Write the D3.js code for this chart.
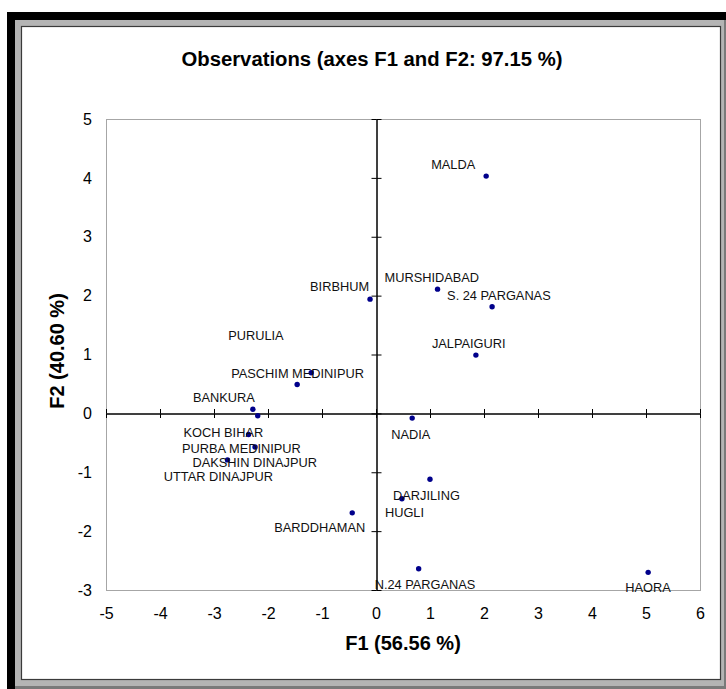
<!DOCTYPE html>
<html>
<head>
<meta charset="utf-8">
<script src="https://cdn.jsdelivr.net/npm/d3@7"></script>
<style>
  html, body { margin: 0; padding: 0; background: #fff; }
  svg { display: block; font-family: "Liberation Sans", Arial, sans-serif; }
</style>
</head>
<body>
<svg id="chart" width="726" height="689"></svg>
<script>
// ---------------- DATA ----------------
const districts = ["MALDA", "MURSHIDABAD", "S. 24 PARGANAS", "JALPAIGURI", "BIRBHUM",
  "PURULIA", "PASCHIM MEDINIPUR", "BANKURA", "UTTAR DINAJPUR", "KOCH BIHAR",
  "PURBA MEDINIPUR", "DAKSHIN DINAJPUR", "NADIA", "DARJILING", "HUGLI",
  "BARDDHAMAN", "N.24 PARGANAS", "HAORA"];
const f1Values = [2.04, 1.14, 2.15, 1.85, -0.11, -1.46, -1.20, -2.28, -2.19, -2.36,
  -2.24, -2.75, 0.67, 1.00, 0.48, -0.44, 0.79, 5.04];
const f2Values = [4.03, 2.11, 1.81, 0.99, 1.94, 0.49, 0.69, 0.07, -0.04, -0.36,
  -0.57, -0.79, -0.08, -1.12, -1.45, -1.69, -2.64, -2.70];
const xTicks = [-5, -4, -3, -2, -1, 0, 1, 2, 3, 4, 5, 6];
const yTicks = [-3, -2, -1, 0, 1, 2, 3, 4, 5];
const chartTitle = "Observations (axes F1 and F2: 97.15 %)";
const xTitle = "F1 (56.56 %)";
const yTitle = "F2 (40.60 %)";

// ---------------- LAYOUT ----------------
// label offsets (px) relative to each point: [dx to text start, dy to baseline]
const labelOffsets = {
  "MALDA": [-55, -7], "MURSHIDABAD": [-53, -7], "S. 24 PARGANAS": [-45, -7],
  "JALPAIGURI": [-44, -7], "BIRBHUM": [-60, -8], "PURULIA": [-69, -45],
  "PASCHIM MEDINIPUR": [-80, 5], "BANKURA": [-60, -7], "UTTAR DINAJPUR": [-94, 65],
  "KOCH BIHAR": [-65, 2], "PURBA MEDINIPUR": [-73, 6.5], "DAKSHIN DINAJPUR": [-35, 7.5],
  "NADIA": [-21, 21], "DARJILING": [-37, 21], "HUGLI": [-17, 18],
  "BARDDHAMAN": [-78, 19], "N.24 PARGANAS": [-44, 20], "HAORA": [-23, 20]
};

const svg = d3.select("#chart");
const W = 726, H = 689;
const fmt = d => String(d);

// frame
svg.append("rect").attr("x", 0).attr("y", 0).attr("width", W).attr("height", H).attr("fill", "#fff");
svg.append("rect").attr("x", 7).attr("y", 12).attr("width", W - 7).attr("height", H - 12).attr("fill", "#000");
svg.append("rect").attr("x", 15).attr("y", 20).attr("width", W - 15).attr("height", H - 20).attr("fill", "#7a7a7a");
svg.append("rect").attr("x", 15).attr("y", 20).attr("width", W - 17).attr("height", H - 23).attr("fill", "#b4b4b4");
svg.append("rect").attr("x", 21.5).attr("y", 26.5).attr("width", 699).attr("height", 653)
  .attr("fill", "#fff").attr("stroke", "#3a3a3a").attr("stroke-width", 1.2);

// scales
const x = d3.scaleLinear().domain([-5, 6]).range([106, 700]);
const y = d3.scaleLinear().domain([-3, 5]).range([590, 119]);

// plot border
svg.append("rect").attr("x", x(-5) + 0.5).attr("y", y(5) + 0.5)
  .attr("width", x(6) - x(-5)).attr("height", y(-3) - y(5))
  .attr("fill", "none").attr("stroke", "#a6a6a6").attr("stroke-width", 1);

// tick labels (outer)
const xLab = svg.append("g").attr("transform", `translate(0,${y(-3)})`)
  .call(d3.axisBottom(x).tickValues(xTicks).tickSize(0).tickPadding(18).tickFormat(fmt));
xLab.select(".domain").remove();
xLab.selectAll("text").attr("font-size", 16).attr("fill", "#000")
  .attr("font-family", "'Liberation Sans', Arial, sans-serif");

const yLab = svg.append("g").attr("transform", `translate(${x(-5)},0)`)
  .call(d3.axisLeft(y).tickValues(yTicks).tickSize(0).tickPadding(14).tickFormat(fmt));
yLab.select(".domain").remove();
yLab.selectAll("text").attr("font-size", 16).attr("fill", "#000")
  .attr("font-family", "'Liberation Sans', Arial, sans-serif");

// axes through origin
function styleAxis(g) {
  g.selectAll("path, line").attr("stroke", "#000").attr("stroke-width", 1);
  g.selectAll("text").remove();
}
const y0 = Math.round(y(0)) + 0.5, x0 = Math.round(x(0)) + 0.5;
svg.append("g").attr("transform", `translate(0,${y0})`)
  .call(d3.axisBottom(x).tickValues(xTicks).tickSize(4.5).tickSizeOuter(0).tickFormat(""))
  .call(styleAxis);
svg.append("g").attr("transform", `translate(0,${y0})`)
  .call(d3.axisTop(x).tickValues(xTicks).tickSize(4.5).tickSizeOuter(0).tickFormat(""))
  .call(styleAxis);
svg.append("g").attr("transform", `translate(${x0},0)`)
  .call(d3.axisLeft(y).tickValues(yTicks).tickSize(5).tickSizeOuter(0).tickFormat(""))
  .call(styleAxis);
svg.append("g").attr("transform", `translate(${x0},0)`)
  .call(d3.axisRight(y).tickValues(yTicks).tickSize(5).tickSizeOuter(0).tickFormat(""))
  .call(styleAxis);

// points
const data = districts.map((d, i) => ({ name: d, f1: f1Values[i], f2: f2Values[i] }));
svg.append("g").selectAll("circle").data(data).join("circle")
  .attr("cx", d => x(d.f1)).attr("cy", d => y(d.f2)).attr("r", 2.7)
  .attr("fill", "#00008b");

// labels
svg.append("g").selectAll("text").data(data).join("text")
  .attr("x", d => x(d.f1) + labelOffsets[d.name][0])
  .attr("y", d => y(d.f2) + labelOffsets[d.name][1])
  .attr("font-size", 12.8).attr("fill", "#111")
  .text(d => d.name);

// titles
svg.append("text").attr("x", 372).attr("y", 65.5).attr("text-anchor", "middle")
  .attr("font-size", 20.3).attr("font-weight", "bold").text(chartTitle);
svg.append("text").attr("x", (x(-5) + x(6)) / 2).attr("y", 650).attr("text-anchor", "middle")
  .attr("font-size", 20).attr("font-weight", "bold").text(xTitle);
svg.append("text").attr("transform", `translate(64,351) rotate(-90)`).attr("text-anchor", "middle")
  .attr("font-size", 20).attr("font-weight", "bold").text(yTitle);
</script>
</body>
</html>
